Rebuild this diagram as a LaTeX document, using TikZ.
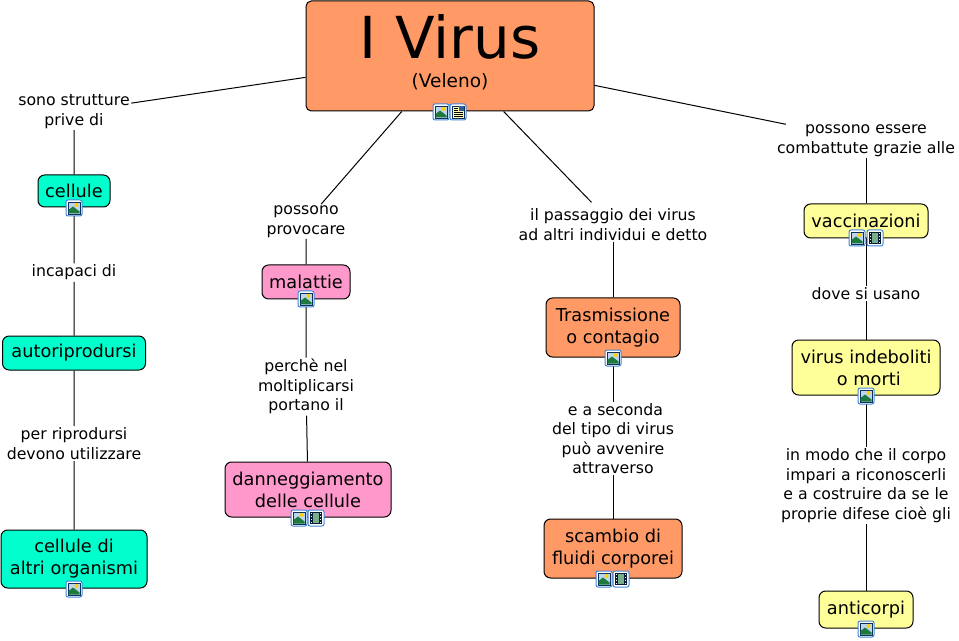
\documentclass[tikz,border=0pt]{standalone}
\usepackage{fontspec}
\setmainfont{DejaVu Sans}
\usepackage{xcolor}
\definecolor{arancio}{HTML}{FF9966}
\definecolor{ciano}{HTML}{00FFCC}
\definecolor{rosa}{HTML}{FF99CC}
\definecolor{giallo}{HTML}{FFFF99}
\definecolor{bordoicona}{HTML}{3F86D8}
\definecolor{bluicona}{HTML}{10305C}
\definecolor{verdeicona}{HTML}{1E7A3C}
\definecolor{cieloicona}{HTML}{BCD6F2}
\tikzset{
  concetto/.style={draw=black, line width=.75pt, rounded corners=5pt, inner sep=0pt, align=center,
    font=\fontsize{13.3}{16.5}\selectfont},
  frase/.style={fill=white, inner sep=1pt, align=center, yshift=-1.2pt, font=\fontsize{11.8}{14.6}\selectfont},
  legame/.style={line width=.75pt},
  fondoicona/.style={draw=bordoicona, fill=white, line width=.75pt, rounded corners=1.5pt},
  imgicon/.pic={
    \draw[fondoicona] (-8,-8) rectangle (8,8);
    \draw[bluicona, fill=cieloicona, line width=.6pt] (-6,-6) rectangle (6,6);
    \fill[verdeicona] (-5.5,5.5) -- (-5.5,2) -- (-1,-1.5) -- (5.5,3.5) -- (5.5,5.5) -- cycle;
    \fill[yellow!70!orange] (2.5,-3) circle (2);
  },
  noteicon/.pic={
    \draw[fondoicona] (-8,-8) rectangle (8,8);
    \draw[bluicona, fill=giallo!70!white, line width=.6pt] (-6,-6) rectangle (6,6);
    \fill[bordoicona!70!black] (0.5,-5.5) rectangle (5.5,-1);
    \draw[black, line width=.6pt] (-4.5,-3.5) -- (-0.5,-3.5) (-4.5,-1.5) -- (-0.5,-1.5)
      (-4.5,0.5) -- (4.5,0.5) (-4.5,2.5) -- (4.5,2.5) (-4.5,4.5) -- (4.5,4.5);
  },
  filmicon/.pic={
    \draw[fondoicona] (-8,-8) rectangle (8,8);
    \fill[bluicona!60!black] (-6,-6) rectangle (6,6);
    \fill[verdeicona!60!white] (-3,-5) rectangle (3,5);
    \foreach \yy in {-4.5,-1.5,1.5,4.5} {
      \fill[white] (-5.2,\yy-.7) rectangle (-3.8,\yy+.7);
      \fill[white] (3.8,\yy-.7) rectangle (5.2,\yy+.7);
    }
  },
}

\begin{document}
\begin{tikzpicture}[x=.75pt, y=-.75pt]
  \useasboundingbox (0,0) rectangle (959,641);
  % radice
  \node[concetto, fill=arancio, rounded corners=4pt, minimum width=216pt, minimum height=82.5pt] (virus) at (450,56)
    {{\fontsize{43.4}{46}\selectfont I Virus}\\[5.1pt]{\fontsize{13.9}{16}\selectfont (Veleno)}\\[-9.35pt]};
  % colonna 1
  \node[frase] (prive) at (74,110) {sono strutture\\prive di};
  \node[concetto, fill=ciano, minimum width=54pt, minimum height=24pt] (cellule) at (74,191) {cellule};
  \node[frase] (incapaci) at (74,271) {incapaci di};
  \node[concetto, fill=ciano, minimum width=107.25pt, minimum height=25.5pt] (autori) at (74,353) {autoriprodursi};
  \node[frase] (riprodursi) at (74,442) {per riprodursi\\devono utilizzare};
  \node[concetto, fill=ciano, minimum width=109.5pt, minimum height=43.5pt] (altri) at (74,559) {cellule di\\altri organismi};
  % colonna 2
  \node[frase] (provocare) at (306,220) {possono\\provocare};
  \node[concetto, fill=rosa, minimum width=66pt, minimum height=25.5pt] (malattie) at (306,282) {malattie};
  \node[frase] (perche) at (306,385) {perchè nel\\moltiplicarsi\\portano il};
  \node[concetto, fill=rosa, minimum width=124.5pt, minimum height=41.25pt] (danno) at (308,489.5) {danneggiamento\\delle cellule};
  % colonna 3
  \node[frase] (passaggio) at (613,223) {il passaggio dei virus\\ad altri individui e detto};
  \node[concetto, fill=arancio, minimum width=100.5pt, minimum height=44.25pt] (contagio) at (613,327.5) {Trasmissione\\o contagio};
  \node[frase] (seconda) at (613,437) {\ e a seconda\\del tipo di virus\\può avvenire\ \\attraverso};
  \node[concetto, fill=arancio, minimum width=103.5pt, minimum height=44.25pt] (scambio) at (613,548.5) {scambio di\\fluidi corporei};
  % colonna 4
  \node[frase] (grazie) at (866,139) {possono essere\\combattute grazie alle};
  \node[concetto, fill=giallo, minimum width=93pt, minimum height=25.5pt] (vaccini) at (866,221) {vaccinazioni};
  \node[frase] (usano) at (866,292) {dove si usano};
  \node[concetto, fill=giallo, minimum width=111pt, minimum height=41.25pt] (morti) at (866,367.5) {virus indeboliti\\\ o morti};
  \node[frase] (corpo) at (866,484) {in modo che il corpo\\impari a riconoscerli\\e a costruire da se le\\proprie difese cioè gli};
  \node[concetto, fill=giallo, minimum width=70.5pt, minimum height=27.75pt] (anticorpi) at (866,609.5) {anticorpi};
  % legami
  \draw[legame] (virus) -- (prive) (prive) -- (cellule) (cellule) -- (incapaci) (incapaci) -- (autori)
    (autori) -- (riprodursi) (riprodursi) -- (altri);
  \draw[legame] (virus) -- (provocare) (provocare) -- (malattie) (malattie) -- (perche) (perche) -- (danno);
  \draw[legame, shorten >=5pt] (virus) -- (passaggio);
  \draw[legame] (passaggio) -- (contagio) (contagio) -- (seconda) (seconda) -- (scambio);
  \draw[legame, shorten >=-4pt] (virus) -- (grazie);
  \draw[legame] (grazie) -- (vaccini) (vaccini) -- (usano) (usano) -- (morti) (morti) -- (corpo) (corpo) -- (anticorpi);
  % icone
  \pic at (441,112) {imgicon};
  \pic at (458,112) {noteicon};
  \pic at (74,208) {imgicon};
  \pic at (74,589) {imgicon};
  \pic at (306,299) {imgicon};
  \pic at (299,518) {imgicon};
  \pic at (316,518) {filmicon};
  \pic at (613,358) {imgicon};
  \pic at (604,579) {imgicon};
  \pic at (621,579) {filmicon};
  \pic at (857,238) {imgicon};
  \pic at (875,238) {filmicon};
  \pic at (866,396) {imgicon};
  \pic at (866,629) {imgicon};
\end{tikzpicture}
\end{document}
